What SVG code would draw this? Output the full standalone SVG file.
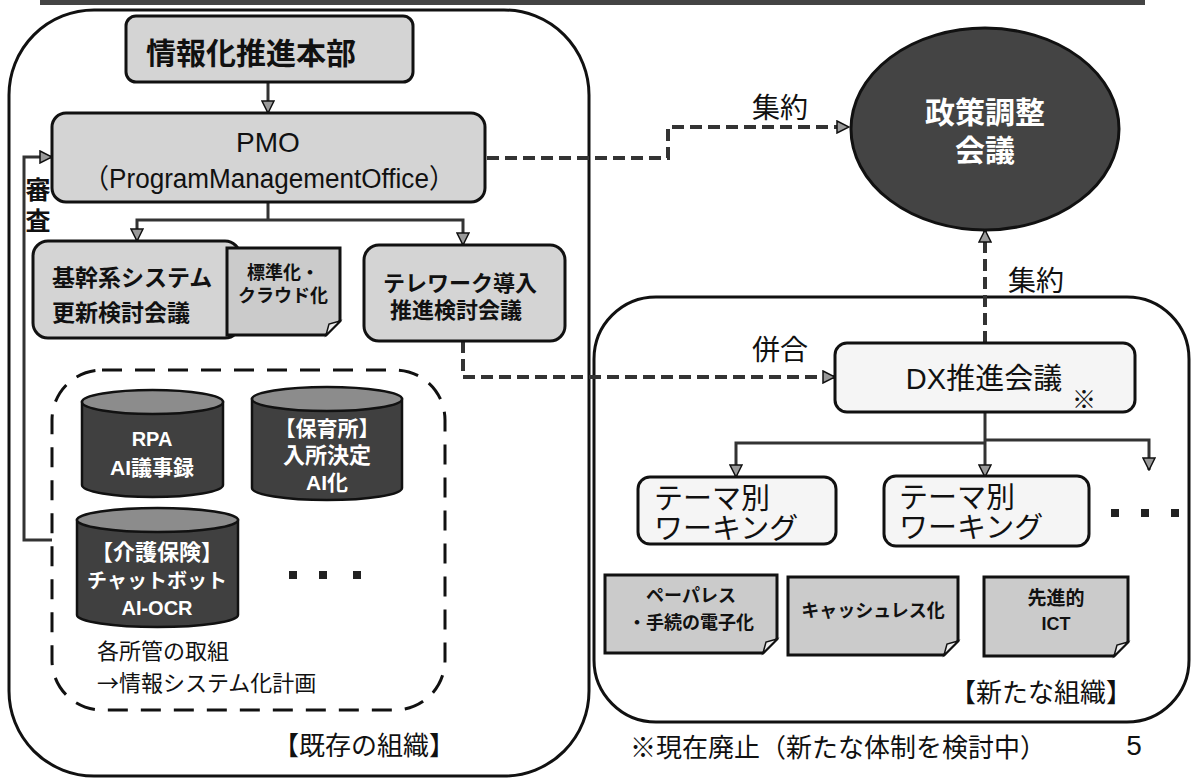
<svg xmlns="http://www.w3.org/2000/svg" width="1192" height="778" viewBox="0 0 1192 778">
<style>
text{font-family:"Liberation Sans","Noto Sans CJK JP",sans-serif;fill:#111}
.cjk{font-family:"Noto Sans CJK JP",sans-serif}
.b{font-weight:bold}
.w{fill:#fff}
.box{fill:#d4d4d4;stroke:#111;stroke-width:3}
.lbox{fill:#f5f5f5;stroke:#111;stroke-width:3}
.note{fill:#cbcbcb;stroke:#111;stroke-width:3}
.fold{fill:#eee;stroke:#111;stroke-width:1.5}
.org{fill:none;stroke:#111;stroke-width:3}
.cyl{fill:#404040;stroke:#111;stroke-width:2.5}
.cyltop{fill:#8c8c8c;stroke:#111;stroke-width:2.5}
.sol{fill:none;stroke:#333;stroke-width:3}
.dash{fill:none;stroke:#333;stroke-width:4;stroke-dasharray:12 6}
.mid{text-anchor:middle}
</style>
<defs>
<marker id="ah" viewBox="0 0 14 14" refX="13" refY="7" markerWidth="14" markerHeight="14" markerUnits="userSpaceOnUse" orient="auto">
<path d="M1,1 L13,7 L1,13 Z" fill="#999" stroke="#111" stroke-width="1.5"/>
</marker>
</defs>

<rect x="40" y="0" width="1105" height="5" fill="#444"/>

<g id="org-existing">
<rect class="org" x="9" y="10" width="580" height="766" rx="85"/>
<text class="cjk" x="273" y="755" font-size="26">【既存の組織】</text>
</g>

<g id="org-new">
<rect class="org" x="594" y="297" width="595" height="425" rx="62"/>
<text class="cjk" x="950" y="702" font-size="26">【新たな組織】</text>
</g>

<g id="dept-group">
<rect x="52" y="370" width="393" height="340" rx="50" fill="none" stroke="#111" stroke-width="3" stroke-dasharray="20 13"/>
<text class="cjk" x="97" y="659" font-size="22">各所管の取組</text>
<text class="cjk" x="97" y="691" font-size="22">→情報システム化計画</text>
<rect x="289" y="571" width="8" height="8" fill="#222"/>
<rect x="319" y="571" width="8" height="8" fill="#222"/>
<rect x="353" y="571" width="8" height="8" fill="#222"/>
</g>

<g id="connectors">
<path class="sol" d="M268,82 V113" marker-end="url(#ah)"/>
<path class="sol" d="M268,202 V220"/>
<path class="sol" d="M268,220 H137 V241" marker-end="url(#ah)"/>
<path class="sol" d="M268,220 H463 V245" marker-end="url(#ah)"/>
<path class="sol" d="M52,540 H24 V157 H52" marker-end="url(#ah)"/>
<path class="dash" d="M487,158 H668 V127 H849" marker-end="url(#ah)"/>
<path class="dash" d="M463,341 V377 H835" marker-end="url(#ah)"/>
<path class="dash" d="M985,343 V230" marker-end="url(#ah)"/>
<path class="sol" d="M985,412 V477" marker-end="url(#ah)"/>
<path class="sol" d="M985,443 H736 V477" marker-end="url(#ah)"/>
<path class="sol" d="M985,440 H1149 V470" marker-end="url(#ah)"/>
<text class="b mid" x="38" y="199" font-size="25">審</text>
<text class="b mid" x="38" y="230" font-size="25">査</text>
<text class="mid" x="780" y="118" font-size="28">集約</text>
<text class="mid" x="1036" y="291" font-size="28">集約</text>
<text class="mid" x="780" y="360" font-size="28">併合</text>
</g>

<g id="hq">
<rect class="box" x="126" y="16" width="287" height="66" rx="10"/>
<text class="b mid" x="251" y="64" font-size="30">情報化推進本部</text>
</g>

<g id="pmo">
<rect class="box" x="52" y="113" width="433" height="89" rx="14"/>
<text class="mid" x="268" y="152" font-size="28">PMO</text>
<text class="mid" x="269" y="188" font-size="27" textLength="372" lengthAdjust="spacingAndGlyphs">（ProgramManagementOffice）</text>
</g>

<g id="kikan">
<rect class="box" x="33" y="241" width="207" height="97" rx="15"/>
<text class="b" x="52" y="286" font-size="23">基幹系システム</text>
<text class="b" x="52" y="321" font-size="23">更新検討会議</text>
</g>

<g id="note-std">
<path class="note" d="M227,248 H340 V321 L326,335 H227 Z"/>
<path class="fold" d="M340,321 L329,324 L326,335 Z"/>
<text class="b mid" x="283" y="279" font-size="18">標準化・</text>
<text class="b mid" x="283" y="302" font-size="18">クラウド化</text>
</g>

<g id="telework">
<rect class="box" x="364" y="245" width="201" height="96" rx="15"/>
<text class="b mid" x="460" y="291" font-size="22">テレワーク導入</text>
<text class="b mid" x="456" y="318" font-size="22">推進検討会議</text>
</g>

<g id="cyl-rpa">
<path class="cyl" d="M82,402 V485 A70.5,12 0 0 0 223,485 V402 Z"/>
<ellipse class="cyltop" cx="152.5" cy="402" rx="70.5" ry="12"/>
<text class="b w mid" x="152" y="446" font-size="20">RPA</text>
<text class="b w mid" x="152" y="475" font-size="21">AI議事録</text>
</g>

<g id="cyl-hoiku">
<path class="cyl" d="M252,399 V488 A75,12 0 0 0 402,488 V399 Z"/>
<ellipse class="cyltop" cx="327" cy="399" rx="75" ry="12"/>
<text class="b w mid" x="327" y="436" font-size="21">【保育所】</text>
<text class="b w mid" x="327" y="463" font-size="22">入所決定</text>
<text class="b w mid" x="327" y="490" font-size="21">AI化</text>
</g>

<g id="cyl-kaigo">
<path class="cyl" d="M77,520 V615 A80.5,12 0 0 0 238,615 V520 Z"/>
<ellipse class="cyltop" cx="157.5" cy="520" rx="80.5" ry="12"/>
<text class="b w mid" x="157" y="560" font-size="22">【介護保険】</text>
<text class="b w mid" x="157" y="588" font-size="20">チャットボット</text>
<text class="b w mid" x="157" y="615" font-size="20">AI-OCR</text>
</g>

<g id="policy">
<ellipse cx="985" cy="129" rx="134" ry="101" fill="#444" stroke="#111" stroke-width="3"/>
<text class="b w mid" x="985" y="123" font-size="30">政策調整</text>
<text class="b w mid" x="985" y="161" font-size="30">会議</text>
</g>

<g id="dx">
<rect class="lbox" x="835" y="343" width="300" height="69" rx="12"/>
<text class="mid" x="984" y="389" font-size="29">DX推進会議</text>
<text class="cjk mid" x="1084" y="408" font-size="24">※</text>
</g>

<g id="theme1">
<rect class="lbox" x="638" y="477" width="198" height="67" rx="12"/>
<text x="654" y="509" font-size="29">テーマ別</text>
<text x="654" y="539" font-size="29">ワーキング</text>
</g>

<g id="theme2">
<rect class="lbox" x="884" y="476" width="205" height="70" rx="12"/>
<text x="899" y="508" font-size="29">テーマ別</text>
<text x="899" y="538" font-size="29">ワーキング</text>
</g>

<g id="more-themes">
<rect x="1111" y="509" width="8" height="8" fill="#222"/>
<rect x="1141" y="509" width="8" height="8" fill="#222"/>
<rect x="1171" y="509" width="8" height="8" fill="#222"/>
</g>

<g id="note-paperless">
<path class="note" d="M605,575 H777 V639 L763,653 H605 Z"/>
<path class="fold" d="M777,639 L766,642 L763,653 Z"/>
<text class="b mid" x="691" y="602" font-size="18">ペーパレス</text>
<text class="b mid" x="691" y="629" font-size="18">・手続の電子化</text>
</g>

<g id="note-cashless">
<path class="note" d="M788,577 H958 V641 L944,655 H788 Z"/>
<path class="fold" d="M958,641 L947,644 L944,655 Z"/>
<text class="b mid" x="873" y="617" font-size="18">キャッシュレス化</text>
</g>

<g id="note-ict">
<path class="note" d="M984,577 H1128 V642 L1114,656 H984 Z"/>
<path class="fold" d="M1128,642 L1117,645 L1114,656 Z"/>
<text class="b mid" x="1056" y="605" font-size="19">先進的</text>
<text class="b mid" x="1056" y="630" font-size="18">ICT</text>
</g>

<g id="footer">
<text class="cjk" x="630" y="757" font-size="26">※現在廃止（新たな体制を検討中）</text>
<text class="mid" x="1134" y="755" font-size="28">5</text>
</g>
</svg>
